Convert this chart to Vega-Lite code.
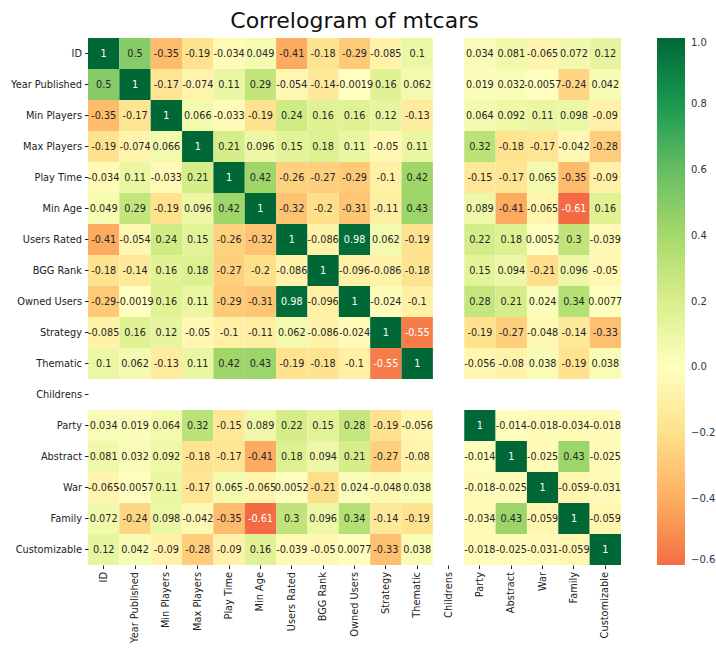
{
  "$schema": "https://vega.github.io/schema/vega-lite/v6.json",
  "width": 533,
  "height": 527,
  "autosize": "none",
  "padding": {"left": 88, "top": 38, "right": 95, "bottom": 99},
  "background": "white",
  "config": {
    "font": "DejaVu Sans",
    "view": {"stroke": null},
    "locale": {"number": {"decimal": ".", "thousands": ",", "grouping": [3], "currency": ["$", ""], "minus": "-"}}
  },
  "title": {"text": "Correlogram of mtcars", "fontSize": 22, "fontWeight": "normal", "color": "#111", "offset": 5, "font": "DejaVu Sans"},
  "datasets": {
    "corr": [
{"row":"ID","col":"ID","r":1},{"row":"ID","col":"Year Published","r":0.5},{"row":"ID","col":"Min Players","r":-0.35},{"row":"ID","col":"Max Players","r":-0.19},{"row":"ID","col":"Play Time","r":-0.034},{"row":"ID","col":"Min Age","r":0.049},{"row":"ID","col":"Users Rated","r":-0.41},{"row":"ID","col":"BGG Rank","r":-0.18},{"row":"ID","col":"Owned Users","r":-0.29},{"row":"ID","col":"Strategy","r":-0.085},{"row":"ID","col":"Thematic","r":0.1},{"row":"ID","col":"Party","r":0.034},{"row":"ID","col":"Abstract","r":0.081},{"row":"ID","col":"War","r":-0.065},{"row":"ID","col":"Family","r":0.072},{"row":"ID","col":"Customizable","r":0.12},
{"row":"Year Published","col":"ID","r":0.5},{"row":"Year Published","col":"Year Published","r":1},{"row":"Year Published","col":"Min Players","r":-0.17},{"row":"Year Published","col":"Max Players","r":-0.074},{"row":"Year Published","col":"Play Time","r":0.11},{"row":"Year Published","col":"Min Age","r":0.29},{"row":"Year Published","col":"Users Rated","r":-0.054},{"row":"Year Published","col":"BGG Rank","r":-0.14},{"row":"Year Published","col":"Owned Users","r":-0.0019},{"row":"Year Published","col":"Strategy","r":0.16},{"row":"Year Published","col":"Thematic","r":0.062},{"row":"Year Published","col":"Party","r":0.019},{"row":"Year Published","col":"Abstract","r":0.032},{"row":"Year Published","col":"War","r":-0.0057},{"row":"Year Published","col":"Family","r":-0.24},{"row":"Year Published","col":"Customizable","r":0.042},
{"row":"Min Players","col":"ID","r":-0.35},{"row":"Min Players","col":"Year Published","r":-0.17},{"row":"Min Players","col":"Min Players","r":1},{"row":"Min Players","col":"Max Players","r":0.066},{"row":"Min Players","col":"Play Time","r":-0.033},{"row":"Min Players","col":"Min Age","r":-0.19},{"row":"Min Players","col":"Users Rated","r":0.24},{"row":"Min Players","col":"BGG Rank","r":0.16},{"row":"Min Players","col":"Owned Users","r":0.16},{"row":"Min Players","col":"Strategy","r":0.12},{"row":"Min Players","col":"Thematic","r":-0.13},{"row":"Min Players","col":"Party","r":0.064},{"row":"Min Players","col":"Abstract","r":0.092},{"row":"Min Players","col":"War","r":0.11},{"row":"Min Players","col":"Family","r":0.098},{"row":"Min Players","col":"Customizable","r":-0.09},
{"row":"Max Players","col":"ID","r":-0.19},{"row":"Max Players","col":"Year Published","r":-0.074},{"row":"Max Players","col":"Min Players","r":0.066},{"row":"Max Players","col":"Max Players","r":1},{"row":"Max Players","col":"Play Time","r":0.21},{"row":"Max Players","col":"Min Age","r":0.096},{"row":"Max Players","col":"Users Rated","r":0.15},{"row":"Max Players","col":"BGG Rank","r":0.18},{"row":"Max Players","col":"Owned Users","r":0.11},{"row":"Max Players","col":"Strategy","r":-0.05},{"row":"Max Players","col":"Thematic","r":0.11},{"row":"Max Players","col":"Party","r":0.32},{"row":"Max Players","col":"Abstract","r":-0.18},{"row":"Max Players","col":"War","r":-0.17},{"row":"Max Players","col":"Family","r":-0.042},{"row":"Max Players","col":"Customizable","r":-0.28},
{"row":"Play Time","col":"ID","r":-0.034},{"row":"Play Time","col":"Year Published","r":0.11},{"row":"Play Time","col":"Min Players","r":-0.033},{"row":"Play Time","col":"Max Players","r":0.21},{"row":"Play Time","col":"Play Time","r":1},{"row":"Play Time","col":"Min Age","r":0.42},{"row":"Play Time","col":"Users Rated","r":-0.26},{"row":"Play Time","col":"BGG Rank","r":-0.27},{"row":"Play Time","col":"Owned Users","r":-0.29},{"row":"Play Time","col":"Strategy","r":-0.1},{"row":"Play Time","col":"Thematic","r":0.42},{"row":"Play Time","col":"Party","r":-0.15},{"row":"Play Time","col":"Abstract","r":-0.17},{"row":"Play Time","col":"War","r":0.065},{"row":"Play Time","col":"Family","r":-0.35},{"row":"Play Time","col":"Customizable","r":-0.09},
{"row":"Min Age","col":"ID","r":0.049},{"row":"Min Age","col":"Year Published","r":0.29},{"row":"Min Age","col":"Min Players","r":-0.19},{"row":"Min Age","col":"Max Players","r":0.096},{"row":"Min Age","col":"Play Time","r":0.42},{"row":"Min Age","col":"Min Age","r":1},{"row":"Min Age","col":"Users Rated","r":-0.32},{"row":"Min Age","col":"BGG Rank","r":-0.2},{"row":"Min Age","col":"Owned Users","r":-0.31},{"row":"Min Age","col":"Strategy","r":-0.11},{"row":"Min Age","col":"Thematic","r":0.43},{"row":"Min Age","col":"Party","r":0.089},{"row":"Min Age","col":"Abstract","r":-0.41},{"row":"Min Age","col":"War","r":-0.065},{"row":"Min Age","col":"Family","r":-0.61},{"row":"Min Age","col":"Customizable","r":0.16},
{"row":"Users Rated","col":"ID","r":-0.41},{"row":"Users Rated","col":"Year Published","r":-0.054},{"row":"Users Rated","col":"Min Players","r":0.24},{"row":"Users Rated","col":"Max Players","r":0.15},{"row":"Users Rated","col":"Play Time","r":-0.26},{"row":"Users Rated","col":"Min Age","r":-0.32},{"row":"Users Rated","col":"Users Rated","r":1},{"row":"Users Rated","col":"BGG Rank","r":-0.086},{"row":"Users Rated","col":"Owned Users","r":0.98},{"row":"Users Rated","col":"Strategy","r":0.062},{"row":"Users Rated","col":"Thematic","r":-0.19},{"row":"Users Rated","col":"Party","r":0.22},{"row":"Users Rated","col":"Abstract","r":0.18},{"row":"Users Rated","col":"War","r":0.0052},{"row":"Users Rated","col":"Family","r":0.3},{"row":"Users Rated","col":"Customizable","r":-0.039},
{"row":"BGG Rank","col":"ID","r":-0.18},{"row":"BGG Rank","col":"Year Published","r":-0.14},{"row":"BGG Rank","col":"Min Players","r":0.16},{"row":"BGG Rank","col":"Max Players","r":0.18},{"row":"BGG Rank","col":"Play Time","r":-0.27},{"row":"BGG Rank","col":"Min Age","r":-0.2},{"row":"BGG Rank","col":"Users Rated","r":-0.086},{"row":"BGG Rank","col":"BGG Rank","r":1},{"row":"BGG Rank","col":"Owned Users","r":-0.096},{"row":"BGG Rank","col":"Strategy","r":-0.086},{"row":"BGG Rank","col":"Thematic","r":-0.18},{"row":"BGG Rank","col":"Party","r":0.15},{"row":"BGG Rank","col":"Abstract","r":0.094},{"row":"BGG Rank","col":"War","r":-0.21},{"row":"BGG Rank","col":"Family","r":0.096},{"row":"BGG Rank","col":"Customizable","r":-0.05},
{"row":"Owned Users","col":"ID","r":-0.29},{"row":"Owned Users","col":"Year Published","r":-0.0019},{"row":"Owned Users","col":"Min Players","r":0.16},{"row":"Owned Users","col":"Max Players","r":0.11},{"row":"Owned Users","col":"Play Time","r":-0.29},{"row":"Owned Users","col":"Min Age","r":-0.31},{"row":"Owned Users","col":"Users Rated","r":0.98},{"row":"Owned Users","col":"BGG Rank","r":-0.096},{"row":"Owned Users","col":"Owned Users","r":1},{"row":"Owned Users","col":"Strategy","r":-0.024},{"row":"Owned Users","col":"Thematic","r":-0.1},{"row":"Owned Users","col":"Party","r":0.28},{"row":"Owned Users","col":"Abstract","r":0.21},{"row":"Owned Users","col":"War","r":0.024},{"row":"Owned Users","col":"Family","r":0.34},{"row":"Owned Users","col":"Customizable","r":0.0077},
{"row":"Strategy","col":"ID","r":-0.085},{"row":"Strategy","col":"Year Published","r":0.16},{"row":"Strategy","col":"Min Players","r":0.12},{"row":"Strategy","col":"Max Players","r":-0.05},{"row":"Strategy","col":"Play Time","r":-0.1},{"row":"Strategy","col":"Min Age","r":-0.11},{"row":"Strategy","col":"Users Rated","r":0.062},{"row":"Strategy","col":"BGG Rank","r":-0.086},{"row":"Strategy","col":"Owned Users","r":-0.024},{"row":"Strategy","col":"Strategy","r":1},{"row":"Strategy","col":"Thematic","r":-0.55},{"row":"Strategy","col":"Party","r":-0.19},{"row":"Strategy","col":"Abstract","r":-0.27},{"row":"Strategy","col":"War","r":-0.048},{"row":"Strategy","col":"Family","r":-0.14},{"row":"Strategy","col":"Customizable","r":-0.33},
{"row":"Thematic","col":"ID","r":0.1},{"row":"Thematic","col":"Year Published","r":0.062},{"row":"Thematic","col":"Min Players","r":-0.13},{"row":"Thematic","col":"Max Players","r":0.11},{"row":"Thematic","col":"Play Time","r":0.42},{"row":"Thematic","col":"Min Age","r":0.43},{"row":"Thematic","col":"Users Rated","r":-0.19},{"row":"Thematic","col":"BGG Rank","r":-0.18},{"row":"Thematic","col":"Owned Users","r":-0.1},{"row":"Thematic","col":"Strategy","r":-0.55},{"row":"Thematic","col":"Thematic","r":1},{"row":"Thematic","col":"Party","r":-0.056},{"row":"Thematic","col":"Abstract","r":-0.08},{"row":"Thematic","col":"War","r":0.038},{"row":"Thematic","col":"Family","r":-0.19},{"row":"Thematic","col":"Customizable","r":0.038},
{"row":"Party","col":"ID","r":0.034},{"row":"Party","col":"Year Published","r":0.019},{"row":"Party","col":"Min Players","r":0.064},{"row":"Party","col":"Max Players","r":0.32},{"row":"Party","col":"Play Time","r":-0.15},{"row":"Party","col":"Min Age","r":0.089},{"row":"Party","col":"Users Rated","r":0.22},{"row":"Party","col":"BGG Rank","r":0.15},{"row":"Party","col":"Owned Users","r":0.28},{"row":"Party","col":"Strategy","r":-0.19},{"row":"Party","col":"Thematic","r":-0.056},{"row":"Party","col":"Party","r":1},{"row":"Party","col":"Abstract","r":-0.014},{"row":"Party","col":"War","r":-0.018},{"row":"Party","col":"Family","r":-0.034},{"row":"Party","col":"Customizable","r":-0.018},
{"row":"Abstract","col":"ID","r":0.081},{"row":"Abstract","col":"Year Published","r":0.032},{"row":"Abstract","col":"Min Players","r":0.092},{"row":"Abstract","col":"Max Players","r":-0.18},{"row":"Abstract","col":"Play Time","r":-0.17},{"row":"Abstract","col":"Min Age","r":-0.41},{"row":"Abstract","col":"Users Rated","r":0.18},{"row":"Abstract","col":"BGG Rank","r":0.094},{"row":"Abstract","col":"Owned Users","r":0.21},{"row":"Abstract","col":"Strategy","r":-0.27},{"row":"Abstract","col":"Thematic","r":-0.08},{"row":"Abstract","col":"Party","r":-0.014},{"row":"Abstract","col":"Abstract","r":1},{"row":"Abstract","col":"War","r":-0.025},{"row":"Abstract","col":"Family","r":0.43},{"row":"Abstract","col":"Customizable","r":-0.025},
{"row":"War","col":"ID","r":-0.065},{"row":"War","col":"Year Published","r":-0.0057},{"row":"War","col":"Min Players","r":0.11},{"row":"War","col":"Max Players","r":-0.17},{"row":"War","col":"Play Time","r":0.065},{"row":"War","col":"Min Age","r":-0.065},{"row":"War","col":"Users Rated","r":0.0052},{"row":"War","col":"BGG Rank","r":-0.21},{"row":"War","col":"Owned Users","r":0.024},{"row":"War","col":"Strategy","r":-0.048},{"row":"War","col":"Thematic","r":0.038},{"row":"War","col":"Party","r":-0.018},{"row":"War","col":"Abstract","r":-0.025},{"row":"War","col":"War","r":1},{"row":"War","col":"Family","r":-0.059},{"row":"War","col":"Customizable","r":-0.031},
{"row":"Family","col":"ID","r":0.072},{"row":"Family","col":"Year Published","r":-0.24},{"row":"Family","col":"Min Players","r":0.098},{"row":"Family","col":"Max Players","r":-0.042},{"row":"Family","col":"Play Time","r":-0.35},{"row":"Family","col":"Min Age","r":-0.61},{"row":"Family","col":"Users Rated","r":0.3},{"row":"Family","col":"BGG Rank","r":0.096},{"row":"Family","col":"Owned Users","r":0.34},{"row":"Family","col":"Strategy","r":-0.14},{"row":"Family","col":"Thematic","r":-0.19},{"row":"Family","col":"Party","r":-0.034},{"row":"Family","col":"Abstract","r":0.43},{"row":"Family","col":"War","r":-0.059},{"row":"Family","col":"Family","r":1},{"row":"Family","col":"Customizable","r":-0.059},
{"row":"Customizable","col":"ID","r":0.12},{"row":"Customizable","col":"Year Published","r":0.042},{"row":"Customizable","col":"Min Players","r":-0.09},{"row":"Customizable","col":"Max Players","r":-0.28},{"row":"Customizable","col":"Play Time","r":-0.09},{"row":"Customizable","col":"Min Age","r":0.16},{"row":"Customizable","col":"Users Rated","r":-0.039},{"row":"Customizable","col":"BGG Rank","r":-0.05},{"row":"Customizable","col":"Owned Users","r":0.0077},{"row":"Customizable","col":"Strategy","r":-0.33},{"row":"Customizable","col":"Thematic","r":0.038},{"row":"Customizable","col":"Party","r":-0.018},{"row":"Customizable","col":"Abstract","r":-0.025},{"row":"Customizable","col":"War","r":-0.031},{"row":"Customizable","col":"Family","r":-0.059},{"row":"Customizable","col":"Customizable","r":1}
    ]
  },
  "data": {"name": "corr"},
  "encoding": {
    "x": {
      "field": "col", "type": "nominal", "title": null,
      "scale": {"domain": ["ID","Year Published","Min Players","Max Players","Play Time","Min Age","Users Rated","BGG Rank","Owned Users","Strategy","Thematic","Childrens","Party","Abstract","War","Family","Customizable"], "paddingInner": 0, "paddingOuter": 0},
      "axis": {"labelAngle": -90, "labelFontSize": 9.8, "labelColor": "#222", "tickColor": "#222", "tickSize": 3.5, "domain": false, "labelPadding": 3, "labelFont": "DejaVu Sans"}
    },
    "y": {
      "field": "row", "type": "nominal", "title": null,
      "scale": {"domain": ["ID","Year Published","Min Players","Max Players","Play Time","Min Age","Users Rated","BGG Rank","Owned Users","Strategy","Thematic","Childrens","Party","Abstract","War","Family","Customizable"], "paddingInner": 0, "paddingOuter": 0},
      "axis": {"labelFontSize": 9.8, "labelColor": "#222", "tickColor": "#222", "tickSize": 3.5, "domain": false, "labelPadding": 3, "labelFont": "DejaVu Sans"}
    }
  },
  "layer": [
    {
      "mark": {"type": "rect"},
      "encoding": {
        "color": {
          "field": "r", "type": "quantitative",
          "scale": {
            "domain": [-0.6, -0.4, -0.2, 0, 0.2, 0.4, 0.6, 0.8, 1.0],
            "range": ["#f46d43", "#fdae61", "#fee08b", "#ffffbf", "#d9ef8b", "#a6d96a", "#66bd63", "#1a9850", "#006837"],
            "interpolate": "rgb"
          },
          "legend": {
            "title": null, "orient": "none", "legendX": 569, "legendY": 0,
            "direction": "vertical",
            "gradientLength": 527, "gradientThickness": 28,
            "values": [-0.6, -0.4, -0.2, 0, 0.2, 0.4, 0.6, 0.8, 1.0],
            "format": ".1f", "labelFontSize": 10, "labelColor": "#333", "labelFont": "DejaVu Sans",
            "labelExpr": "replace(datum.label, '-', '\u2212')",
            "labelOffset": 6, "gradientStrokeWidth": 0
          }
        }
      }
    },
    {
      "mark": {"type": "text", "fontSize": 9.7, "font": "DejaVu Sans"},
      "encoding": {
        "text": {"field": "r", "type": "quantitative", "format": ".2~g"},
        "color": {
          "condition": {"test": "datum.r > 0.7 || datum.r < -0.5", "value": "white"},
          "value": "#262626"
        }
      }
    }
  ]
}
